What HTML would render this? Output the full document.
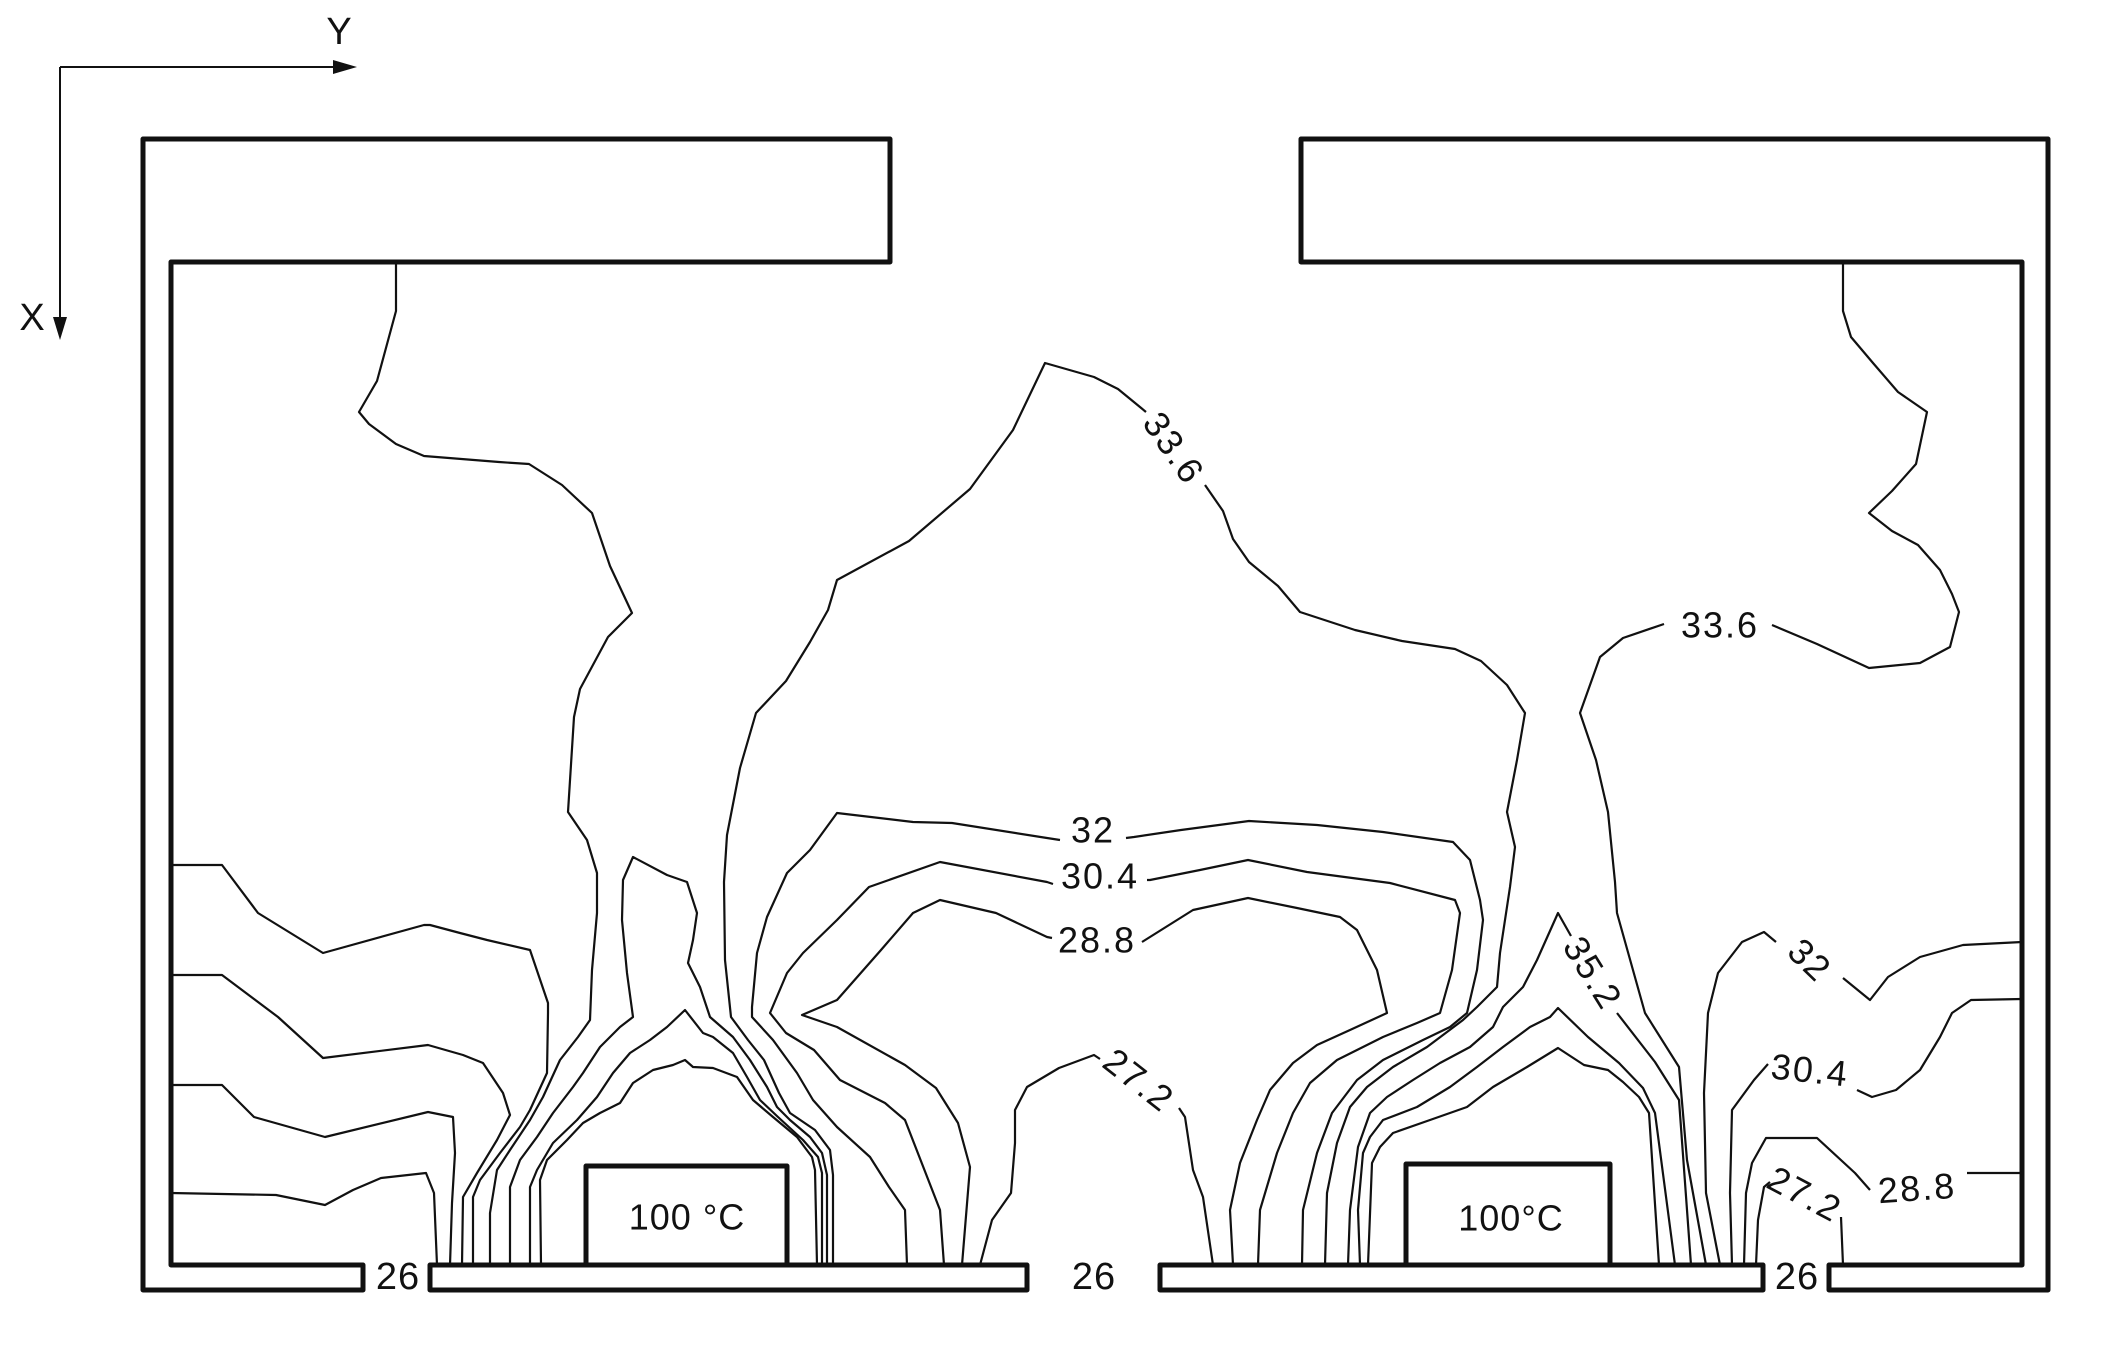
<!DOCTYPE html>
<html>
<head>
<meta charset="utf-8">
<style>
  html,body{margin:0;padding:0;background:#ffffff;}
  svg{display:block;}
  text{font-family:"Liberation Sans", sans-serif; fill:#111;}
</style>
</head>
<body>
<svg width="2106" height="1354" viewBox="0 0 2106 1354" xmlns="http://www.w3.org/2000/svg">
  <rect width="2106" height="1354" fill="#ffffff"/>

  <!-- Axes -->
  <g stroke="#111" stroke-width="2" fill="none">
    <line x1="60" y1="67" x2="338" y2="67"/>
    <line x1="60" y1="67" x2="60" y2="322"/>
  </g>
  <polygon points="333,60 357,67 333,74" fill="#111"/>
  <polygon points="53,317 60,340 67,317" fill="#111"/>
  <text x="339" y="32" font-size="38" text-anchor="middle" dominant-baseline="central">Y</text>
  <text x="32" y="318" font-size="38" text-anchor="middle" dominant-baseline="central">X</text>

  <!-- Walls -->
  <g stroke="#111" stroke-width="5" fill="none" stroke-linejoin="round">
    <path d="M143,1290 L143,139 L890,139 L890,262 L171,262 L171,1265 L363,1265 L363,1290 Z"/>
    <path d="M2048,1290 L2048,139 L1301,139 L1301,262 L2022,262 L2022,1265 L1829,1265 L1829,1290 Z"/>
    <rect x="430" y="1265" width="597" height="25"/>
    <rect x="1160" y="1265" width="603" height="25"/>
    <rect x="586" y="1166" width="201" height="99"/>
    <rect x="1406" y="1164" width="204" height="101"/>
  </g>

  <!-- Contours -->
  <g stroke="#111" stroke-width="2.2" fill="none" stroke-linejoin="round">
    <!-- left wall lines -->
    <polyline points="171,865 222,865 258,913 323,953 424,925 430,925 460,933 487,940 530,950 548,1003 548,1013 547,1073 530,1110 520,1127 500,1153 480,1180 473,1197 473,1265"/>
    <polyline points="171,975 222,975 278,1017 323,1058 428,1045 463,1055 483,1063 503,1093 510,1115 497,1140 477,1173 463,1197 462,1265"/>
    <polyline points="171,1085 222,1085 254,1117 325,1137 428,1112 453,1117 455,1153 452,1203 450,1265"/>
    <polyline points="171,1193 276,1195 325,1205 353,1190 381,1178 426,1173 434,1193 437,1265"/>

    <!-- 33.6 left lobe -->
    <polyline points="396,262 396,311 377,381 359,412 369,424 396,444 424,456 499,462 529,464 562,485 592,513 610,566 632,613 608,637 580,689 574,717 568,812 587,840 597,873 597,913 592,970 590,1020 578,1037 560,1060 543,1097 530,1120 510,1150 497,1170 490,1213 490,1265"/>

    <!-- heater 1 peaks -->
    <polyline points="510,1265 510,1187 520,1160 537,1137 553,1113 573,1087 583,1073 600,1047 620,1027 633,1017 627,973 622,920 623,880 633,857 667,875 687,882 697,913 693,940 688,963 700,987 710,1017 733,1037 750,1060 767,1087 777,1107 790,1120 810,1137 822,1153 827,1175 827,1265"/>
    <polyline points="530,1265 530,1187 537,1170 553,1143 577,1120 597,1097 613,1073 630,1053 650,1040 667,1027 685,1010 703,1033 713,1037 733,1053 747,1077 760,1100 778,1117 803,1140 818,1157 822,1173 822,1265"/>
    <polyline points="541,1265 540,1180 547,1160 567,1140 583,1123 600,1113 620,1103 633,1083 653,1070 673,1065 685,1060 693,1067 713,1068 737,1077 753,1100 773,1117 797,1137 812,1157 815,1170 817,1265"/>

    <!-- 33.6 dome -->
    <polyline points="833,1265 833,1175 830,1150 815,1130 790,1113 779,1093 764,1060 748,1040 731,1017 725,960 724,882 727,835 740,768 756,713 786,681 810,642 828,610 837,580 909,541 970,489 1013,430 1045,363 1094,377 1118,389 1146,412"/>
    <polyline points="1205,485 1223,511 1233,539 1249,562 1278,586 1300,612 1355,630 1402,641 1455,649 1481,661 1507,685 1525,713 1517,760 1507,812 1515,847 1510,887 1500,953 1497,987 1477,1007 1463,1020 1427,1047 1393,1067 1367,1087 1350,1107 1337,1143 1327,1193 1325,1265"/>

    <!-- 32 arch -->
    <polyline points="907,1265 905,1210 889,1187 870,1157 837,1127 813,1100 797,1073 773,1040 752,1017 752,1007 757,953 767,917 787,873 810,850 837,813 913,822 952,823 1047,838 1060,840"/>
    <polyline points="1126,838 1134,837 1181,830 1249,821 1317,825 1383,832 1453,842 1470,860 1480,900 1483,920 1477,970 1467,1013 1450,1027 1423,1040 1383,1060 1357,1080 1332,1113 1317,1153 1303,1210 1302,1265"/>

    <!-- 30.4 arch -->
    <polyline points="944,1265 940,1210 905,1120 885,1103 840,1080 814,1050 786,1033 770,1013 787,973 803,953 837,920 869,887 940,862 1047,882 1053,884"/>
    <polyline points="1147,880 1150,880 1200,870 1248,860 1307,872 1390,883 1455,900 1460,913 1452,970 1440,1013 1417,1023 1383,1037 1337,1060 1310,1083 1293,1113 1277,1153 1260,1210 1258,1265"/>

    <!-- 28.8 arch -->
    <polyline points="962,1265 970,1167 958,1123 936,1088 905,1065 837,1027 802,1015 837,1000 881,950 913,913 940,900 996,913 1047,937 1052,938"/>
    <polyline points="1142,942 1193,910 1248,898 1297,908 1340,917 1357,930 1377,970 1387,1013 1350,1030 1317,1045 1293,1063 1270,1090 1257,1120 1240,1163 1230,1210 1233,1265"/>

    <!-- 27.2 center -->
    <polyline points="980,1265 992,1220 1011,1193 1015,1143 1015,1110 1027,1087 1059,1068 1094,1055 1100,1059"/>
    <polyline points="1179,1108 1185,1117 1193,1170 1203,1197 1213,1265"/>

    <!-- heater 2: 35.2 and peaks -->
    <polyline points="1348,1265 1350,1210 1358,1147 1370,1113 1387,1097 1413,1080 1440,1063 1470,1047 1493,1027 1503,1007 1523,987 1537,960 1558,913 1571,936"/>
    <polyline points="1617,1013 1655,1062 1679,1100 1691,1265"/>
    <polyline points="1360,1265 1358,1210 1363,1153 1370,1137 1383,1120 1417,1107 1450,1087 1477,1067 1503,1047 1530,1027 1550,1017 1558,1008 1588,1037 1619,1063 1643,1088 1655,1113 1675,1265"/>
    <polyline points="1368,1265 1372,1163 1380,1147 1393,1133 1430,1120 1467,1107 1493,1087 1527,1067 1558,1048 1584,1065 1608,1070 1623,1082 1639,1097 1649,1113 1659,1265"/>

    <!-- 33.6 right loop -->
    <polyline points="1843,262 1843,311 1851,337 1873,363 1898,392 1927,412 1916,464 1892,491 1869,513 1892,531 1918,545 1940,570 1952,594 1959,612 1950,647 1920,663 1869,668 1817,644 1772,625"/>
    <polyline points="1664,624 1623,638 1600,657 1580,713 1596,760 1608,812 1615,882 1617,913 1645,1013 1679,1067 1687,1160 1706,1265"/>

    <!-- right 32 -->
    <polyline points="1720,1265 1706,1193 1704,1093 1708,1013 1718,973 1742,942 1764,932 1776,942"/>
    <polyline points="1843,978 1870,1000 1888,977 1920,957 1963,945 2022,942"/>
    <!-- right 30.4 -->
    <polyline points="1732,1265 1730,1193 1732,1110 1754,1080 1768,1064"/>
    <polyline points="1857,1090 1872,1097 1896,1090 1920,1070 1940,1037 1952,1013 1971,1000 2022,999"/>
    <!-- right 28.8 -->
    <polyline points="1744,1265 1746,1193 1752,1163 1766,1138 1817,1138 1855,1173 1870,1190"/>
    <polyline points="1967,1173 2022,1173"/>
    <!-- right 27.2 -->
    <polyline points="1756,1265 1758,1220 1764,1187 1770,1182"/>
    <polyline points="1841,1217 1843,1265"/>
  </g>

  <!-- Labels -->
  <g font-size="36" text-anchor="middle" dominant-baseline="central" letter-spacing="2">
    <text x="1174" y="448" transform="rotate(55 1174 448)">33.6</text>
    <text x="1720" y="625">33.6</text>
    <text x="1093" y="830">32</text>
    <text x="1100" y="876">30.4</text>
    <text x="1097" y="940">28.8</text>
    <text x="1139" y="1080" transform="rotate(38 1139 1080)">27.2</text>
    <text x="1593" y="973" transform="rotate(58 1593 973)">35.2</text>
    <text x="1810" y="960" transform="rotate(44 1810 960)">32</text>
    <text x="1810" y="1070" transform="rotate(6 1810 1070)">30.4</text>
    <text x="1917" y="1188" transform="rotate(-4 1917 1188)">28.8</text>
    <text x="1805" y="1194" transform="rotate(28 1805 1194)">27.2</text>
  </g>
  <g font-size="38" text-anchor="middle" dominant-baseline="central" letter-spacing="1">
    <text x="398" y="1277">26</text>
    <text x="1094" y="1277">26</text>
    <text x="1797" y="1277">26</text>
  </g>
  <g font-size="36" text-anchor="middle" dominant-baseline="central" letter-spacing="1">
    <text x="687" y="1217">100 °C</text>
    <text x="1511" y="1218">100°C</text>
  </g>
</svg>
</body>
</html>
